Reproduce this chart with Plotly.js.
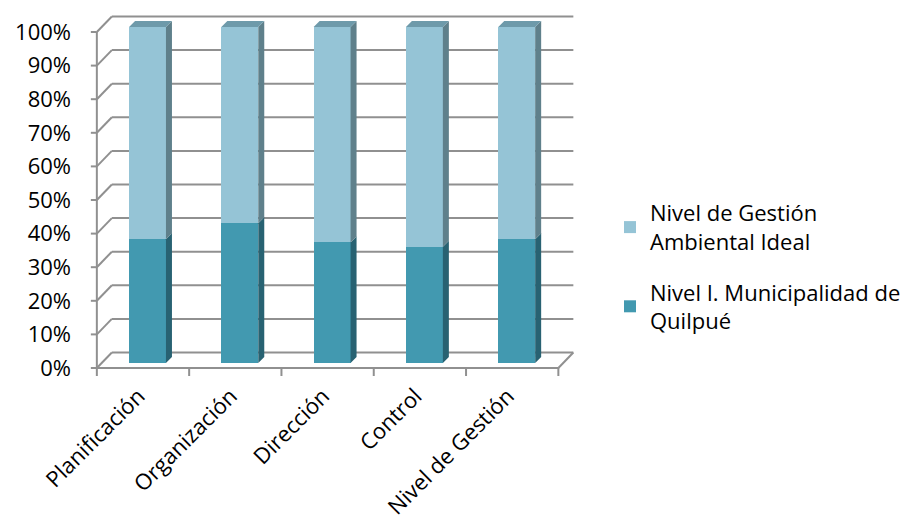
<!DOCTYPE html>
<html>
<head>
<meta charset="utf-8">
<script src="https://cdn.plot.ly/plotly-3.0.1.min.js"></script>
<style>html,body{margin:0;padding:0;background:#fff;}#chart{width:921px;height:525px;}</style>
</head>
<body>
<div id="chart"></div>
<script>
// ---- data ----
const categories = ["Planificación", "Organización", "Dirección", "Control", "Nivel de Gestión"];
const quilpue = [36.8, 41.6, 35.9, 34.6, 36.8];
const ideal = [63.2, 58.4, 64.1, 65.4, 63.2];
const yTicks = [0, 10, 20, 30, 40, 50, 60, 70, 80, 90, 100];
const seriesNames = ["Nivel I. Municipalidad de<br>Quilpué", "Nivel de Gestión<br>Ambiental Ideal"];

// ---- geometry (pixel layout) ----
const W = 921, H = 525;
const L = 80, R = 330, T = 8, B = 147;
const plotL = L, plotR = W - R, plotT = T, plotB = H - B;
const catPx = 92.3, firstCatPx = 147.5;
const unitPx = 3.36, zeroPx = 363;
const xr = [(plotL - firstCatPx) / catPx, (plotR - firstCatPx) / catPx];
const yr = [(zeroPx - plotB) / unitPx, (zeroPx - plotT) / unitPx];
const fx = 4.5 / catPx, fy = 5 / unitPx;
const Dx = 15 / catPx, Dy = 15.5 / unitPx;
const sx = 6 / catPx, sy = 6 / unitPx;
const bw = 0.4;
const labelShift = 9 / catPx;

const gridCol = "#909090";
const shapes = [];
const xF = -0.5 - fx;
const xFR = categories.length - 0.5 - fx;
const yOff = -fy;
shapes.push({type: "line", xref: "x", yref: "y", x0: xF, x1: xF, y0: yTicks[0] + yOff, y1: yTicks[yTicks.length - 1] + yOff,
  line: {color: gridCol, width: 2}, layer: "below"});
yTicks.forEach(v => {
  const yy = v + yOff;
  shapes.push({type: "line", xref: "x", yref: "y", xsizemode: "pixel", xanchor: xF, x0: -6, x1: 0, y0: yy, y1: yy,
    line: {color: gridCol, width: 2}, layer: "below"});
  shapes.push({type: "line", xref: "x", yref: "y", x0: xF, x1: xF + Dx, y0: yy, y1: yy + Dy,
    line: {color: gridCol, width: 2}, layer: "below"});
  shapes.push({type: "line", xref: "x", yref: "y", x0: xF + Dx, x1: xFR + Dx, y0: yy + Dy, y1: yy + Dy,
    line: {color: gridCol, width: 2}, layer: "below"});
});
shapes.push({type: "line", xref: "x", yref: "y", x0: xF, x1: xFR, y0: yOff, y1: yOff, line: {color: gridCol, width: 2}, layer: "below"});
shapes.push({type: "line", xref: "x", yref: "y", x0: xFR, x1: xFR + Dx, y0: yOff, y1: yOff + Dy, line: {color: gridCol, width: 2}, layer: "below"});
for (let k = 0; k <= categories.length; k++) {
  const xx = k - 0.5 - fx;
  shapes.push({type: "line", xref: "x", yref: "y", ysizemode: "pixel", yanchor: yOff, y0: 0, y1: -8, x0: xx, x1: xx,
    line: {color: gridCol, width: 2}, layer: "below"});
}
const cQ = "#4299B0", cQs = "#286272", cI = "#95C4D6", cIs = "#5F808B", cIt = "#6E9AAA";
categories.forEach((c, i) => {
  const q = quilpue[i], t = quilpue[i] + ideal[i];
  const xrgt = i + bw / 2, xlft = i - bw / 2;
  shapes.push({type: "path", xref: "x", yref: "y", layer: "above", line: {width: 0}, fillcolor: cQs,
    path: `M${xrgt},0 L${xrgt + sx},${sy} L${xrgt + sx},${q + sy} L${xrgt},${q} Z`});
  shapes.push({type: "path", xref: "x", yref: "y", layer: "above", line: {width: 0}, fillcolor: cIs,
    path: `M${xrgt},${q} L${xrgt + sx},${q + sy} L${xrgt + sx},${t + sy} L${xrgt},${t} Z`});
  shapes.push({type: "path", xref: "x", yref: "y", layer: "above", line: {width: 0}, fillcolor: cIt,
    path: `M${xlft},${t} L${xrgt},${t} L${xrgt + sx},${t + sy} L${xlft + sx},${t + sy} Z`});
});

const idx = categories.map((c, i) => i);
const traces = [
  {type: "bar", x: idx, y: quilpue, name: seriesNames[0], width: bw, legendgroup: "a", legendrank: 2,
   marker: {color: cQ, line: {width: 0}}, hoverinfo: "skip"},
  {type: "bar", x: idx, y: ideal, name: seriesNames[1], width: bw, legendgroup: "b", legendrank: 1,
   marker: {color: cI, line: {width: 0}}, hoverinfo: "skip"},
  {type: "scatter", x: [xF], y: [0], yaxis: "y2", mode: "markers", marker: {opacity: 0}, showlegend: false, hoverinfo: "skip"}
];

const font = {family: "'Open Sans', 'Noto Sans', sans-serif", size: 22, color: "#000"};
const layout = {
  width: W, height: H,
  margin: {l: L, r: R, t: T, b: B, pad: 0},
  paper_bgcolor: "#fff", plot_bgcolor: "rgba(0,0,0,0)",
  font: font,
  barmode: "stack",
  showlegend: true,
  xaxis: {range: xr, tickvals: idx.map(i => i - labelShift), ticktext: categories, tickangle: -45, showgrid: false, zeroline: false,
    showline: false, ticks: "", tickfont: font, fixedrange: true},
  yaxis: {range: yr, showgrid: false, zeroline: false, showticklabels: false, showline: false, ticks: "", fixedrange: true},
  yaxis2: {range: [yr[0] + fy, yr[1] + fy], overlaying: "y", side: "left", tickvals: yTicks,
    ticktext: yTicks.map(v => v + "%"), showgrid: false, zeroline: false, showline: false, ticks: "",
    ticklabelstandoff: 8, tickfont: font, fixedrange: true},
  legend: {x: (610 - L) / (plotR - plotL), xanchor: "left", y: (plotB - 267) / (plotB - plotT), yanchor: "middle",
    font: font, traceorder: "grouped", tracegroupgap: 19, bgcolor: "rgba(0,0,0,0)"},
  shapes: shapes
};
Plotly.newPlot("chart", traces, layout, {displayModeBar: false, staticPlot: true});
</script>
</body>
</html>
